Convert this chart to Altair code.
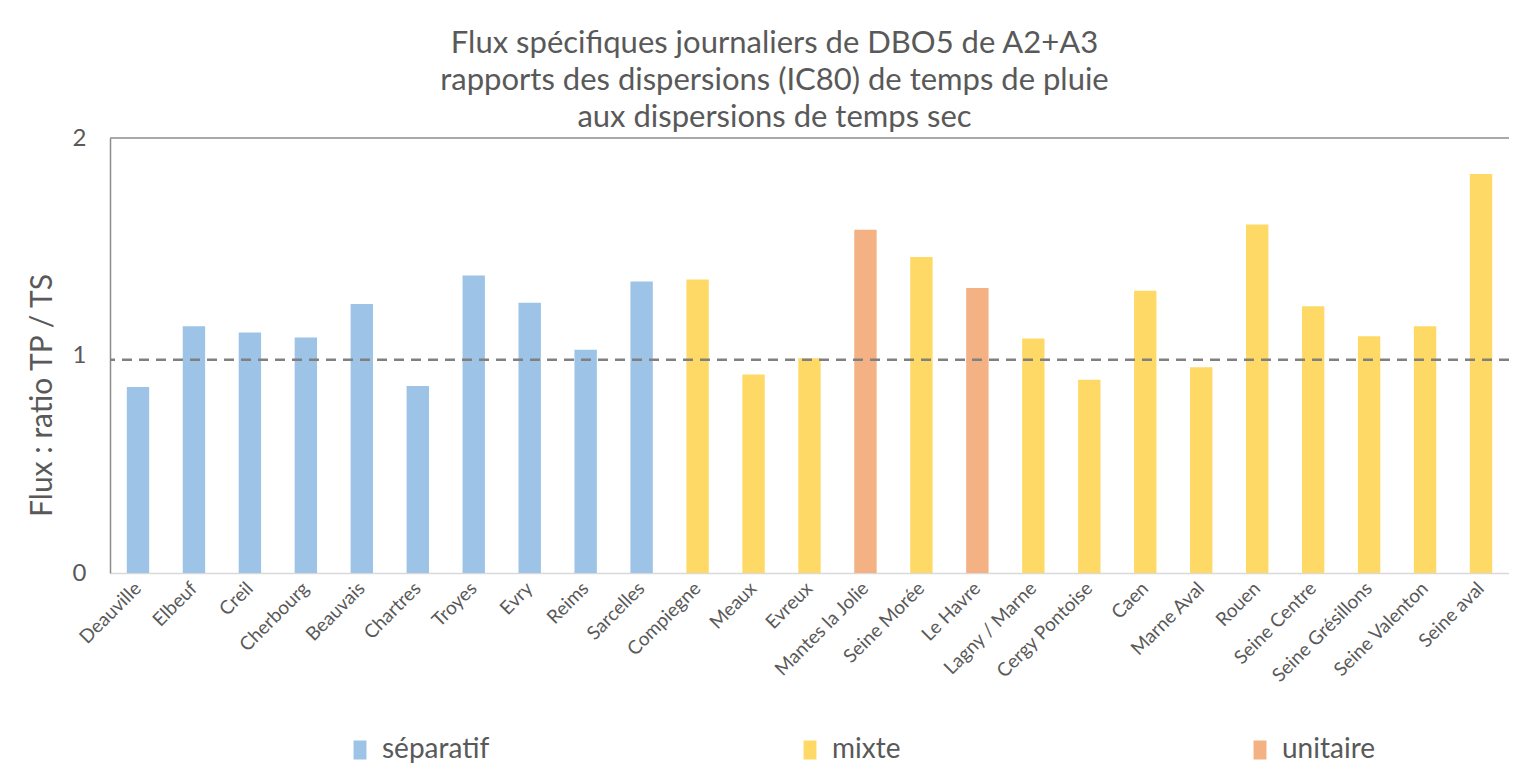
import altair as alt
import pandas as pd

stations = ["Deauville", "Elbeuf", "Creil", "Cherbourg", "Beauvais", "Chartres", "Troyes",
            "Evry", "Reims", "Sarcelles", "Compiegne", "Meaux", "Evreux", "Mantes la Jolie",
            "Seine Morée", "Le Havre", "Lagny / Marne", "Cergy Pontoise", "Caen", "Marne Aval",
            "Rouen", "Seine Centre", "Seine Grésillons", "Seine Valenton", "Seine aval"]
ratios = [0.855, 1.135, 1.106, 1.083, 1.237, 0.86, 1.368, 1.242, 1.026, 1.34, 1.35, 0.913,
          0.987, 1.578, 1.453, 1.31, 1.078, 0.889, 1.298, 0.946, 1.602, 1.226, 1.089, 1.135, 1.835]
network = ["séparatif"] * 10 + ["mixte", "mixte", "mixte", "unitaire", "mixte", "unitaire"] + ["mixte"] * 9
network_types = ["séparatif", "mixte", "unitaire"]
network_colors = ["#9DC3E6", "#FFD966", "#F4B183"]
reference_ratio = [0.98]
y_ticks = [0, 1, 2]

title_lines = ["Flux spécifiques journaliers de DBO5 de A2+A3",
               "rapports des dispersions (IC80) de temps de pluie",
               "aux dispersions de temps sec"]

df = pd.DataFrame({"station": stations, "ratio": ratios, "reseau": network})
ref = pd.DataFrame({"ref": reference_ratio})

W, H = 1399, 435
FONT = "Lato"
TXT = "#595959"

y_axis = alt.Axis(values=y_ticks, labelExpr="'' + round(datum.value)", grid=False, tickSize=0,
                  labelPadding=24, labelFontSize=24, labelColor=TXT, labelFont=FONT,
                  labelOverlap=False, labelFlush=False,
                  domainColor="#8c8c8c", domainWidth=1.5,
                  titleFontSize=30, titleColor=TXT, titleFont=FONT,
                  titleFontWeight="normal", titleAngle=-90, titleX=-68, titleY=257,
                  titleAlign="center", titleBaseline="middle")
y_scale = alt.Scale(domain=[0, 2], nice=False)

bars = alt.Chart(df).mark_bar().encode(
    x=alt.X("station:N", sort=stations, title=None,
            scale=alt.Scale(paddingInner=0.6, paddingOuter=0.3),
            axis=alt.Axis(labelAngle=-45, labelAlign="right", labelBaseline="middle",
                          labelFontSize=19, labelColor=TXT, labelFont=FONT,
                          labelPadding=12, tickSize=0, domainColor="#d9d9d9",
                          domainWidth=1.5, labelOverlap=False, labelLimit=300)),
    y=alt.Y("ratio:Q", title="Flux : ratio  TP / TS", scale=y_scale, axis=y_axis),
    color=alt.Color("reseau:N", scale=alt.Scale(domain=network_types, range=network_colors),
                    legend=alt.Legend(title=None, orient="none", legendX=236, legendY=598,
                                      direction="horizontal", columns=3, gridAlign="all",
                                      columnPadding=306,
                                      symbolType="M-0.68,-1L0.68,-1L0.68,1L-0.68,1Z",
                                      symbolSize=361, symbolStrokeWidth=0,
                                      labelFontSize=28, labelColor=TXT,
                                      labelFont=FONT, labelOffset=8)),
)

dashed = alt.Chart(ref).mark_rule(color="#808080", strokeDash=[10, 7], strokeWidth=2.5).encode(
    y=alt.Y("ref:Q", title="Flux : ratio  TP / TS", scale=y_scale, axis=y_axis)
)

top_border = alt.Chart(ref).mark_rule(color="#8c8c8c", strokeWidth=1.5).encode(
    x=alt.value(0), x2=alt.value(W), y=alt.value(0)
)

chart = alt.layer(bars, dashed, top_border).properties(
    width=W, height=H,
    autosize=alt.AutoSizeParams(type="none"),
    padding={"left": 102, "top": 130, "right": 0, "bottom": 196},
    title=alt.TitleParams(text=title_lines, fontSize=31, font=FONT, color=TXT,
                          fontWeight="normal", anchor="middle", lineHeight=37,
                          offset=-8, dx=-35, frame="group"),
).configure_view(stroke=None)

chart.save("out.html", embed_options={"renderer": "svg", "actions": False})
